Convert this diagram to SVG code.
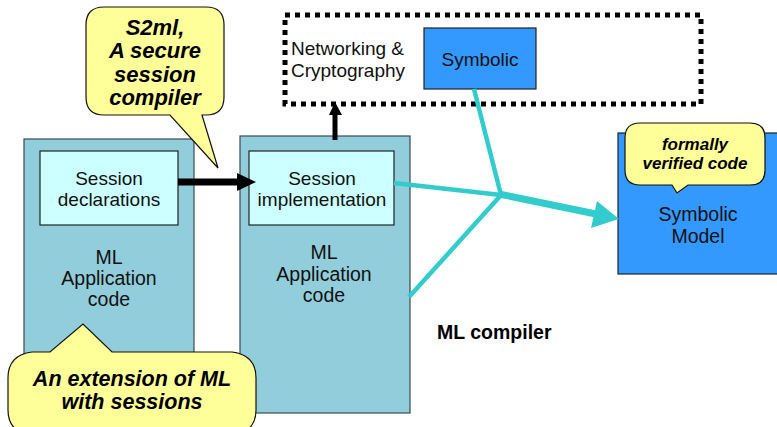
<svg xmlns="http://www.w3.org/2000/svg" width="777" height="427" viewBox="0 0 777 427">
<style>
.t{font-family:"Liberation Sans",Arial,sans-serif;fill:#111;text-anchor:middle}
.n{font-size:19px}
.b{font-size:19.5px}
.c{font-family:"Liberation Sans",Arial,sans-serif;font-weight:bold;font-style:italic;fill:#000;text-anchor:middle}
.outer{fill:#92cddb;stroke:#3a4a50;stroke-width:1.2}
.inner{fill:#ccffff;stroke:#222;stroke-width:1.2}
.blue{fill:#3399ff;stroke:#222;stroke-width:1.2}
.call{fill:#ffff99;stroke:#111;stroke-width:1.2}
.cy{stroke:#33cccc;fill:none}
</style>
<rect width="777" height="427" fill="#fff"/>
<g id="netcrypto">
<rect x="285" y="15" width="416" height="89" fill="#fff" stroke="#000" stroke-width="5" stroke-dasharray="5,5"/>
<text class="t n" x="291" y="55" style="text-anchor:start">Networking &amp;</text>
<text class="t n" x="291" y="77" style="text-anchor:start">Cryptography</text>
</g>
<g id="symbolic">
<rect class="blue" x="424" y="28" width="112" height="61"/>
<text class="t n" x="480" y="66">Symbolic</text>
</g>
<g id="left-app">
<rect class="outer" x="24" y="139" width="170" height="290"/>
<text class="t b" x="109" y="264">ML</text>
<text class="t b" x="109" y="285">Application</text>
<text class="t b" x="109" y="306">code</text>
</g>
<g id="session-decl">
<rect class="inner" x="40" y="151" width="138" height="74"/>
<text class="t n" x="109" y="185">Session</text>
<text class="t n" x="109" y="206">declarations</text>
</g>
<g id="mid-app">
<rect class="outer" x="240" y="136" width="170" height="277"/>
<text class="t b" x="324" y="259">ML</text>
<text class="t b" x="324" y="281">Application</text>
<text class="t b" x="324" y="302">code</text>
</g>
<g id="session-impl">
<rect class="inner" x="249" y="151" width="145" height="74"/>
<text class="t n" x="322" y="185">Session</text>
<text class="t n" x="322" y="206">implementation</text>
</g>
<g id="symbolic-model">
<rect class="blue" x="618" y="133" width="170" height="141"/>
<text class="t b" x="698" y="221">Symbolic</text>
<text class="t b" x="698" y="243">Model</text>
</g>
<g id="connectors">
<line x1="178" y1="182" x2="240" y2="182" stroke="#000" stroke-width="7"/>
<polygon points="237,173 256,182 237,191" fill="#000"/>
<line x1="335" y1="140" x2="335" y2="112" stroke="#000" stroke-width="5"/>
<polygon points="329,115 335,102 342,115" fill="#000"/>
<line class="cy" x1="394" y1="183" x2="501" y2="195" stroke-width="4.5"/>
<line class="cy" x1="474" y1="89" x2="501" y2="195" stroke-width="4.5"/>
<line class="cy" x1="409" y1="297" x2="502" y2="194" stroke-width="4.5"/>
<line class="cy" x1="499" y1="194" x2="596" y2="214" stroke-width="7"/>
<polygon points="597,201 619,219 591,228" fill="#33cccc"/>
<text x="437" y="339" style="font-family:'Liberation Sans',Arial,sans-serif;font-weight:bold;font-size:19.5px;fill:#000">ML compiler</text>
</g>
<g id="callout-s2ml">
<path class="call" d="M104,7 H206 Q224,7 224,25 V97 Q224,115 206,115 H202 L218,168 L170,115 H104 Q86,115 86,97 V25 Q86,7 104,7 Z"/>
<text class="c" x="155" y="35" font-size="22">S2ml,</text>
<text class="c" x="155" y="58" font-size="22">A secure</text>
<text class="c" x="155" y="82" font-size="22">session</text>
<text class="c" x="155" y="105" font-size="22">compiler</text>
</g>
<g id="callout-ext">
<path class="call" d="M32,352 H50 L83,324 L112,352 H232 Q256,355 256,378 V410 Q256,432 232,436 H32 Q8,432 8,410 V378 Q8,355 32,352 Z"/>
<text class="c" x="132" y="386" font-size="21.5">An extension of ML</text>
<text class="c" x="132" y="409" font-size="21.5">with sessions</text>
</g>
<g id="callout-verified">
<path class="call" d="M640,123 H750 Q765,123 765,138 V170 Q765,185 750,185 H688 L677,193 L672,185 H640 Q625,185 625,170 V138 Q625,123 640,123 Z"/>
<text class="c" x="695" y="150" font-size="17">formally</text>
<text class="c" x="695" y="169" font-size="17">verified code</text>
</g>
</svg>
